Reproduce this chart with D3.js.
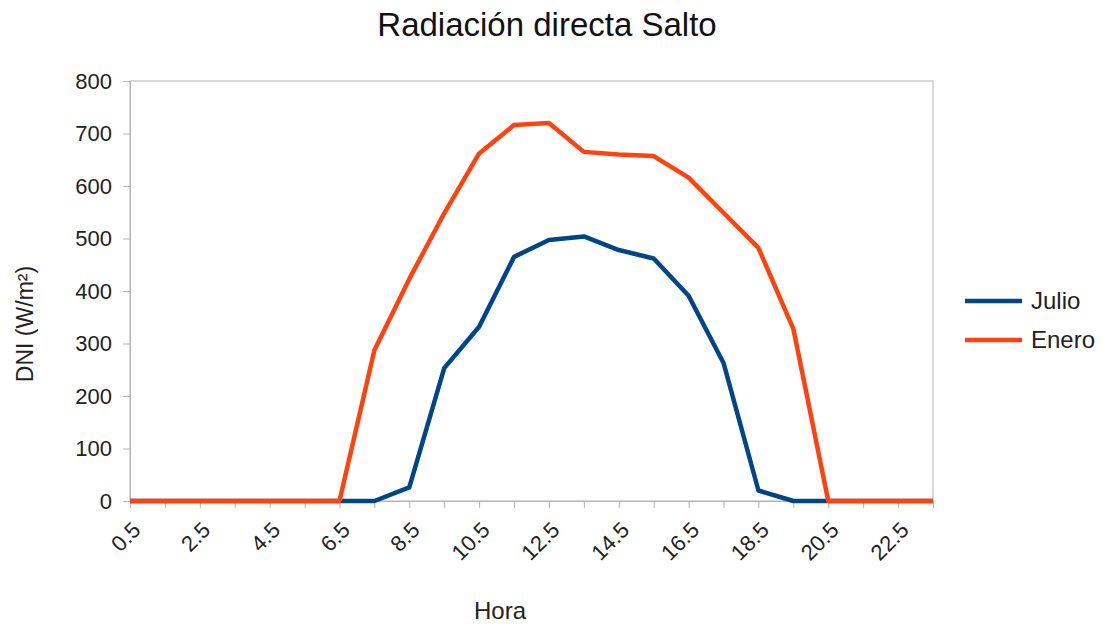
<!DOCTYPE html>
<html>
<head>
<meta charset="utf-8">
<script src="https://cdn.jsdelivr.net/npm/d3@7"></script>
<style>
  body { margin: 0; background: #fff; }
  text { font-family: "Liberation Sans", Arial, sans-serif; }
</style>
</head>
<body>
<svg id="chart" width="1107" height="627"></svg>
<script>
// Hours of the day (category axis)
const hours = ["0.5","1.5","2.5","3.5","4.5","5.5","6.5","7.5","8.5","9.5","10.5","11.5",
  "12.5","13.5","14.5","15.5","16.5","17.5","18.5","19.5","20.5","21.5","22.5","23.5"];
const hourLabels = ["0.5","2.5","4.5","6.5","8.5","10.5","12.5","14.5","16.5","18.5","20.5","22.5"];

// DNI values (W/m²)
const julio = [0,0,0,0,0,0,0,0,26,253,332,465,497,504,478,462,391,263,20,0,0,0,0,0];
const enero = [0,0,0,0,0,0,0,287,423,548,662,716,720,665,660,657,616,549,482,328,0,0,0,0];

const yTicks = [0,100,200,300,400,500,600,700,800];

const series = [
  { name: "Julio", values: julio, color: "#004586" },
  { name: "Enero", values: enero, color: "#ff420e" }
];

const svg = d3.select("#chart");
const plot = { left: 130, right: 933, top: 81, bottom: 501 };

const x = d3.scalePoint()
  .domain(hours)
  .range([plot.left, plot.right])
  .padding(0);

const y = d3.scaleLinear()
  .domain([0, 800])
  .range([plot.bottom, plot.top]);

// Plot area frame
svg.append("rect")
  .attr("x", plot.left)
  .attr("y", plot.top)
  .attr("width", plot.right - plot.left)
  .attr("height", plot.bottom - plot.top)
  .attr("fill", "none")
  .attr("stroke", "#b3b3b3")
  .attr("stroke-width", 1);

// Y axis
const yAxis = svg.append("g")
  .attr("transform", `translate(${plot.left},0)`)
  .call(d3.axisLeft(y).tickValues(yTicks).tickSize(7).tickPadding(11));
yAxis.select(".domain").attr("stroke", "#b3b3b3");
yAxis.selectAll(".tick line").attr("stroke", "#b3b3b3");
yAxis.selectAll(".tick text")
  .attr("font-size", "22px")
  .attr("fill", "#222")
  .style("font-family", "'Liberation Sans', Arial, sans-serif");

// X axis
const xAxis = svg.append("g")
  .attr("transform", `translate(0,${plot.bottom})`)
  .call(d3.axisBottom(x).tickSize(7).tickFormat(d => hourLabels.includes(d) ? d : ""));
xAxis.select(".domain").attr("stroke", "#b3b3b3");
xAxis.selectAll(".tick line").attr("stroke", "#b3b3b3");
xAxis.selectAll(".tick text")
  .attr("font-size", "22px")
  .attr("fill", "#222")
  .style("font-family", "'Liberation Sans', Arial, sans-serif")
  .attr("text-anchor", "end")
  .attr("x", 0)
  .attr("y", 0)
  .attr("dy", "0.35em")
  .attr("transform", "translate(6,25) rotate(-45)");

// Lines
const line = d3.line()
  .x((d, i) => x(hours[i]))
  .y(d => y(d));

svg.selectAll(".series")
  .data(series)
  .enter()
  .append("path")
  .attr("class", "series")
  .attr("d", d => line(d.values))
  .attr("fill", "none")
  .attr("stroke", d => d.color)
  .attr("stroke-width", 4.5)
  .attr("stroke-linejoin", "round");

// Title
svg.append("text")
  .attr("x", 547)
  .attr("y", 36)
  .attr("text-anchor", "middle")
  .attr("font-size", "33px")
  .attr("fill", "#111")
  .text("Radiación directa Salto");

// Axis titles
svg.append("text")
  .attr("transform", "translate(33,324) rotate(-90)")
  .attr("text-anchor", "middle")
  .attr("font-size", "23px")
  .attr("fill", "#222")
  .text("DNI (W/m²)");

svg.append("text")
  .attr("x", 500)
  .attr("y", 619)
  .attr("text-anchor", "middle")
  .attr("font-size", "24px")
  .attr("fill", "#222")
  .text("Hora");

// Legend
const legend = svg.append("g")
  .attr("transform", "translate(965,301)");
const items = legend.selectAll(".legend-item")
  .data(series)
  .enter()
  .append("g")
  .attr("class", "legend-item")
  .attr("transform", (d, i) => `translate(0,${i * 39})`);
items.append("line")
  .attr("x1", 0).attr("x2", 57)
  .attr("y1", 0).attr("y2", 0)
  .attr("stroke", d => d.color)
  .attr("stroke-width", 4.5);
items.append("text")
  .attr("x", 66)
  .attr("dy", "0.35em")
  .attr("font-size", "24px")
  .attr("fill", "#222")
  .text(d => d.name);
</script>
</body>
</html>
